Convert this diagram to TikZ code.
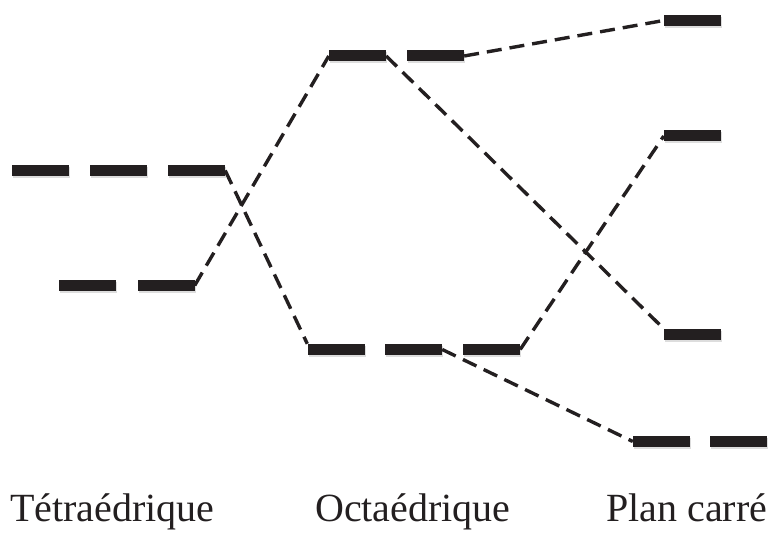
\documentclass[tikz,border=0pt]{standalone}
\usepackage{fontspec}
\setmainfont{Liberation Serif}
\definecolor{ink}{HTML}{231F20}
\begin{document}
\begin{tikzpicture}[x=1pt,y=1pt,
  level/.style={rectangle,fill=ink,inner sep=0pt,minimum width=57pt,minimum height=11pt},
  shade bar/.style={fill=black!22,opacity=0.6,inner sep=0pt,minimum width=57pt,minimum height=11pt},
  link/.style={draw=ink,line width=3.4pt,dash pattern=on 15pt off 8pt},
  caption/.style={anchor=base west,inner sep=0pt,font=\fontsize{40}{44}\selectfont,text=ink}]
\useasboundingbox (0,0) rectangle (772,534);

% soft shadows under the levels
\foreach \x/\y in {41.5/361.5,119.5/361.5,197.5/361.5,
                   88.5/246.5,167/246.5,
                   358.5/476,436.5/476,
                   337/182.5,414.5/182.5,492.5/182.5,
                   693.5/511.5,693.5/396,693.5/197.5,
                   662.5/90.5,739.5/90.5}
  \node[shade bar] at (\x,\y) {};

% tetrahedral field
\node[level] (tA) at (40.5,363.5) {};
\node[level] (tB) at (118.5,363.5) {};
\node[level] (tC) at (196.5,363.5) {};
\node[level] (eA) at (87.5,248.5) {};
\node[level] (eB) at (166,248.5) {};

% octahedral field
\node[level] (gA) at (357.5,478) {};
\node[level] (gB) at (435.5,478) {};
\node[level] (oA) at (336,184.5) {};
\node[level] (oB) at (413.5,184.5) {};
\node[level] (oC) at (491.5,184.5) {};

% square planar field
\node[level] (sA) at (692.5,513.5) {};
\node[level] (sB) at (692.5,398) {};
\node[level] (sC) at (692.5,199.5) {};
\node[level] (sD) at (661.5,92.5) {};
\node[level] (sE) at (738.5,92.5) {};

% correlation lines
\draw[link] (tC.east) -- (oA.north west);
\draw[link] (eB.east) -- (gA.west);
\draw[link] (gB.east) -- (sA.west);
\draw[link] (gA.east) -- (sC.north west);
\draw[link] (oC.east) -- (sB.west);
\draw[link] (oB.east) -- (sD.west);

% captions
\node[caption] (capT) at (10,12) {Tétraédrique};
\node[caption] (capO) at (315,12) {Octaédrique};
\node[caption] (capP) at (606,12) {Plan carré};
\end{tikzpicture}
\end{document}
